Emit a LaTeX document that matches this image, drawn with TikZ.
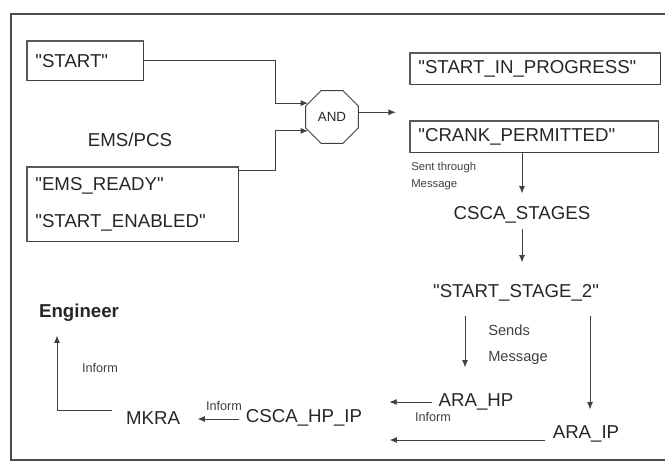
\documentclass[tikz,border=0pt]{standalone}
\usepackage{fontspec}
\setmainfont{Liberation Sans}
\usetikzlibrary{arrows.meta,calc,shapes.geometric}
\newcommand{\qt}[1]{\textquotedbl#1\textquotedbl}

\begin{document}
\begin{tikzpicture}[x=0.75pt,y=-0.75pt,
  box/.style={draw=black!75,line width=0.6pt,inner xsep=6pt,align=left,anchor=north west,
    text=black!85,font=\fontsize{14pt}{16pt}\selectfont},
  lbl/.style={inner sep=0pt,text height=10pt,text depth=2.5pt,text=black!85,
    font=\fontsize{14pt}{16pt}\selectfont},
  note/.style={inner sep=0pt,align=left,text=black!75,font=\fontsize{9.5pt}{12pt}\selectfont},
  arr/.style={-{Latex[length=5.5pt,width=4.5pt]},line width=0.7pt,draw=black!75}]
\useasboundingbox (0,0) rectangle (665,464);
\draw[line width=1.4pt,black!70] (665,14) -- (11,14) -- (11,460) -- (665,460);

\node[box,minimum width=87pt,minimum height=29.25pt,text width=75pt] (start) at (27,41) {\qt{START}};
\node[box,minimum width=158.25pt,minimum height=55.5pt,text width=146.25pt,
  font=\fontsize{14pt}{27.75pt}\selectfont] (ems) at (27,167) {\qt{EMS\_READY}\\\qt{START\_ENABLED}};
\node[box,minimum height=23.25pt,text width=175.5pt] (sip) at (410,53) {\qt{START\_IN\_PROGRESS}};
\node[box,minimum height=23.25pt,text width=174pt] (crank) at (410,121) {\qt{CRANK\_PERMITTED}};
\foreach \b in {start,ems,sip,crank}
  \draw[line width=2pt,black!65] (\b.south west) |- (\b.north east);

\node[draw=black!75,line width=0.7pt,regular polygon,regular polygon sides=8,minimum size=42.75pt,
  inner sep=0pt,text=black!85,font=\fontsize{10pt}{12pt}\selectfont] (and) at (332,117) {AND};

\node[lbl] (emspcs) at (130,141) {EMS/PCS};
\node[lbl] (stages) at (522,214) {CSCA\_STAGES};
\node[lbl] (stage2) at (516,292) {\qt{START\_STAGE\_2}};
\node[lbl] (arahp) at (476,401) {ARA\_HP};
\node[lbl] (araip) at (586,433) {ARA\_IP};
\node[lbl] (cscahp) at (304,417) {CSCA\_HP\_IP};
\node[lbl] (mkra) at (153,419) {MKRA};
\node[lbl,font=\bfseries\fontsize{14pt}{16pt}\selectfont] (eng) at (79,312) {Engineer};

\node[note,anchor=west,font=\fontsize{8.5pt}{12.75pt}\selectfont] (sent) at (411,176) {Sent through\\Message};
\node[note,anchor=west,font=\fontsize{11pt}{19.5pt}\selectfont] (sends) at (488,345) {Sends\\Message};
\node[note] (inf1) at (433,417) {Inform};
\node[note] (inf2) at (224,406) {Inform};
\node[note] (inf3) at (100,368) {Inform};

\draw[arr] (start.east) -- ++(132,0) |- (and.150);
\draw[arr] ($(ems.north east)+(0,3)$) -- ++(37,0) |- (and.210);
\draw[arr] (and.10) -- ++(37,0);
\draw[arr] (stages.north |- crank.south) -- ($(stages.north)+(0,-12)$);
\draw[arr] ($(stages.south)+(0,6)$) -- ($(stages.south |- stage2.north)+(0,-21)$);
\draw[arr] ($(stage2.south)+(-51,15)$) -- ($(arahp.north)+(-11,-25)$);
\draw[arr] ($(stage2.south)+(74,15)$) -- ($(araip.north)+(4,-15)$);
\draw[arr] ($(arahp.west)+(-6,1)$) -- ++(-43,0);
\draw[arr] ($(araip.west)+(-8,7)$) -- ++(-155,0);
\draw[arr,shorten <=5pt,shorten >=13pt] (cscahp.west |- mkra) -- (mkra.east);
\draw[arr] ($(mkra.west)+(-14,-9)$) -| ($(eng.south)+(-22,15)$);
\end{tikzpicture}
\end{document}
